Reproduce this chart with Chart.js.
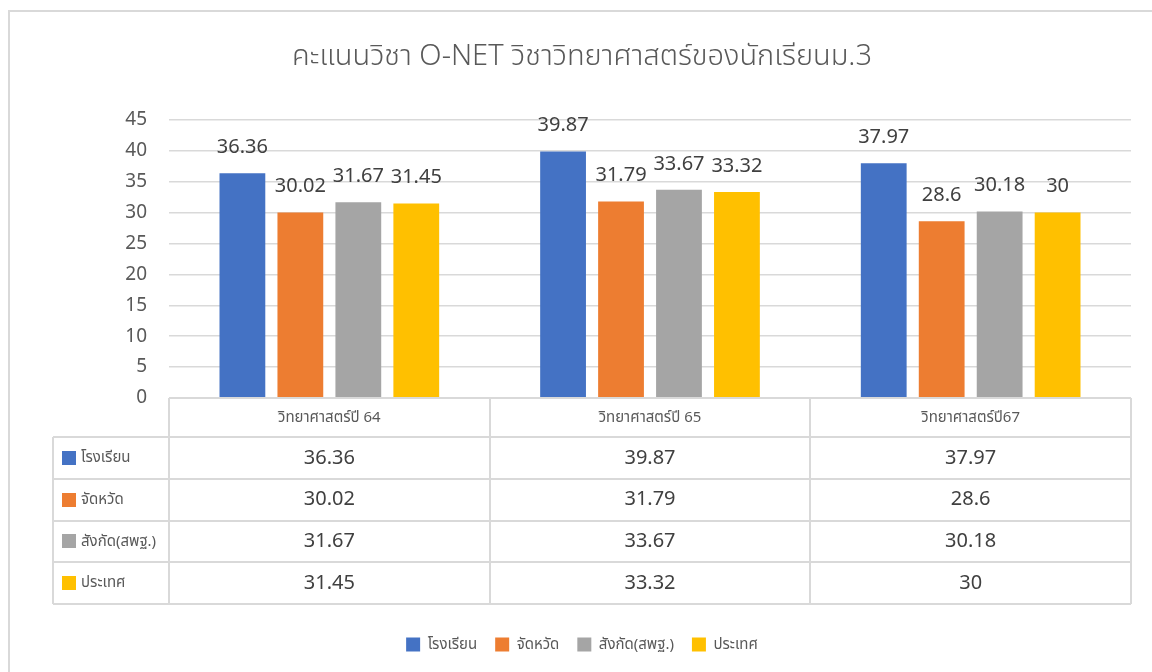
<!DOCTYPE html>
<html><head><meta charset="utf-8">
<script src="https://cdn.jsdelivr.net/npm/chart.js@4"></script>
<style>html,body{margin:0;padding:0;background:#fff;}#wrap{width:1152px;height:672px;position:relative;}</style>
</head><body><div id="wrap"><canvas id="c" width="1152" height="672"></canvas></div>
<script>
const titleText = 'คะแนนวิชา O-NET วิชาวิทยาศาสตร์ของนักเรียนม.3';
const categories = ['วิทยาศาสตร์ปี 64', 'วิทยาศาสตร์ปี 65', 'วิทยาศาสตร์ปี67'];
const seriesNames = ['โรงเรียน', 'จัดหวัด', 'สังกัด(สพฐ.)', 'ประเทศ'];
const schoolValues = [36.36, 39.87, 37.97];
const provinceValues = [30.02, 31.79, 28.6];
const affiliationValues = [31.67, 33.67, 30.18];
const countryValues = [31.45, 33.32, 30];
const yTickValues = [0, 5, 10, 15, 20, 25, 30, 35, 40, 45];
const seriesColors = ['#4472C4', '#ED7D31', '#A5A5A5', '#FFC000'];

const FONT = '"Noto Sans", "Noto Sans Thai", "DejaVu Sans", sans-serif';
const seriesValues = [schoolValues, provinceValues, affiliationValues, countryValues];

let xAxisHeight = 226;
const TARGET_BOTTOM = 398;

const tablePlugin = {
  id: 'tablePlugin',
  beforeDraw(chart) {
    const ctx = chart.ctx;
    ctx.save();
    ctx.strokeStyle = '#d9d9d9';
    ctx.lineWidth = 2;
    ctx.beginPath();
    ctx.moveTo(9, 700); ctx.lineTo(9, 11); ctx.lineTo(1160, 11);
    ctx.stroke();
    ctx.restore();
  },
  afterDatasetsDraw(chart) {
    const ctx = chart.ctx;
    ctx.save();
    ctx.font = '20px ' + FONT;
    ctx.fillStyle = '#404040';
    ctx.textAlign = 'center';
    ctx.textBaseline = 'middle';
    chart.data.datasets.forEach((ds, di) => {
      const meta = chart.getDatasetMeta(di);
      meta.data.forEach((bar, i) => {
        ctx.fillText(String(ds.data[i]), bar.x, bar.y - 26);
      });
    });
    ctx.restore();
  },
  afterDraw(chart) {
    const ctx = chart.ctx;
    const xs = chart.scales.x;
    const area = chart.chartArea;
    const n = categories.length;
    const cw = (area.right - area.left) / n;
    const top = area.bottom;
    const headerH = 39;
    const rowH = 41.75;
    const rowsTop = top + headerH;
    const bottom = rowsTop + rowH * seriesNames.length;
    const leftCol = 53;
    ctx.save();
    ctx.strokeStyle = '#d9d9d9';
    ctx.lineWidth = 2;
    ctx.beginPath();
    ctx.moveTo(area.left, top); ctx.lineTo(area.right, top);
    for (let i = 0; i <= n; i++) {
      const x = Math.round(area.left + cw * i);
      ctx.moveTo(x, top); ctx.lineTo(x, bottom);
    }
    ctx.moveTo(leftCol, rowsTop); ctx.lineTo(leftCol, bottom);
    for (let r = 0; r <= seriesNames.length; r++) {
      const y = Math.round(rowsTop + rowH * r);
      ctx.moveTo(leftCol, y); ctx.lineTo(area.right, y);
    }
    ctx.stroke();

    ctx.textBaseline = 'middle';
    ctx.textAlign = 'center';
    ctx.font = '15px ' + FONT;
    ctx.fillStyle = '#595959';
    categories.forEach((c, i) => {
      ctx.fillText(c, xs.getPixelForValue(i), top + headerH / 2);
    });
    seriesNames.forEach((s, r) => {
      const cy = rowsTop + rowH * r + rowH / 2;
      ctx.fillStyle = seriesColors[r];
      ctx.fillRect(62, Math.round(cy - 7), 14, 14);
      ctx.textAlign = 'left';
      ctx.font = '15px ' + FONT;
      ctx.fillStyle = '#595959';
      ctx.fillText(s, 81, cy);
      ctx.textAlign = 'center';
      ctx.font = '20px ' + FONT;
      ctx.fillStyle = '#404040';
      seriesValues[r].forEach((v, i) => {
        ctx.fillText(String(v), xs.getPixelForValue(i), cy);
      });
    });
    ctx.restore();
  }
};

const chart = new Chart(document.getElementById('c'), {
  type: 'bar',
  data: {
    labels: categories,
    datasets: seriesNames.map((name, i) => ({
      label: name,
      data: seriesValues[i],
      backgroundColor: seriesColors[i],
      borderWidth: 0,
      categoryPercentage: 0.723,
      barPercentage: 0.79
    }))
  },
  options: {
    responsive: false,
    devicePixelRatio: 1,
    animation: false,
    layout: { padding: { left: 33, right: 21, top: 10, bottom: 10 } },
    plugins: {
      title: {
        display: true,
        text: titleText,
        color: '#595959',
        font: { family: FONT, size: 29, weight: 300 },
        padding: { top: 29, bottom: 46 }
      },
      legend: {
        position: 'bottom',
        labels: {
          color: '#595959',
          font: { family: FONT, size: 15 },
          boxWidth: 14, boxHeight: 14,
          padding: 18
        }
      },
      tooltip: { enabled: false }
    },
    scales: {
      x: {
        grid: { display: false, drawTicks: false },
        border: { display: false },
        ticks: { display: false },
        afterFit(s) { s.height = xAxisHeight; }
      },
      y: {
        min: 0, max: 45,
        afterBuildTicks(s) { s.ticks = yTickValues.map(v => ({ value: v })); },
        afterFit(s) { s.width = 136; },
        grid: { color: '#d9d9d9', lineWidth: 1.5, drawTicks: false },
        border: { display: false },
        ticks: { color: '#595959', font: { family: FONT, size: 19 }, padding: 22 }
      }
    }
  },
  plugins: [tablePlugin]
});
const diff = chart.chartArea.bottom - TARGET_BOTTOM;
if (Math.abs(diff) > 0.5) { xAxisHeight += diff; chart.update(); }
</script></body></html>
